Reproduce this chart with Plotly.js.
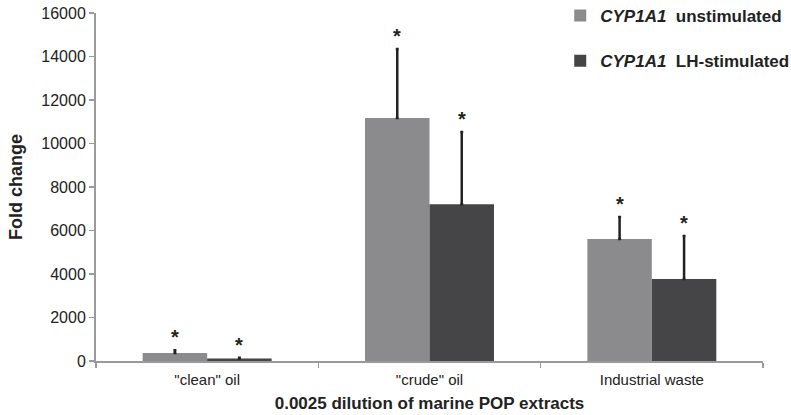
<!DOCTYPE html>
<html>
<head>
<meta charset="utf-8">
<script src="https://cdn.plot.ly/plotly-3.0.1.min.js"></script>
<style>html,body{margin:0;padding:0;background:#fff;}#chart{width:791px;height:415px;}</style>
</head>
<body>
<div id="chart"></div>
<script>
const categories = ['"clean" oil', '"crude" oil', 'Industrial waste'];
const catPos = [0, 1, 2];
const unstimulated = [370, 11170, 5610];
const unstimulatedErr = [120, 3180, 1010];
const lhStimulated = [110, 7210, 3770];
const lhStimulatedErr = [40, 3320, 1980];
const seriesNames = ['<i>CYP1A1</i>  unstimulated', '<i>CYP1A1</i>  LH-stimulated'];
const yTicks = [0, 2000, 4000, 6000, 8000, 10000, 12000, 14000, 16000];
const yTickText = ['0', '2000', '4000', '6000', '8000', '10000', '12000', '14000', '16000'];

const barW = 0.29;
const font = 'Liberation Sans, Arial, sans-serif';

const traces = [
  {
    type: 'bar', name: seriesNames[0], x: catPos, y: unstimulated,
    width: barW, offset: -barW, legendgroup: 'a',
    marker: {color: '#8b8b8d', line: {width: 0}},
    error_y: {type: 'data', array: unstimulatedErr, symmetric: false, arrayminus: [0,0,0], color: '#222', thickness: 2.5, width: 1.5}
  },
  {
    type: 'bar', name: seriesNames[1], x: catPos, y: lhStimulated,
    width: barW, offset: 0, legendgroup: 'b',
    marker: {color: '#454547', line: {width: 0}},
    error_y: {type: 'data', array: lhStimulatedErr, symmetric: false, arrayminus: [0,0,0], color: '#222', thickness: 2.5, width: 1.5}
  }
];

const annotations = [];
catPos.forEach((c, i) => {
  annotations.push({x: c - barW/2, y: unstimulated[i] + unstimulatedErr[i], text: '<b>*</b>', showarrow: false, yanchor: 'bottom', yshift: 0, font: {family: font, size: 20, color: '#222'}});
  annotations.push({x: c + barW/2, y: lhStimulated[i] + lhStimulatedErr[i], text: '<b>*</b>', showarrow: false, yanchor: 'bottom', yshift: 0, font: {family: font, size: 20, color: '#222'}});
});

const layout = {
  width: 791, height: 415,
  margin: {l: 96, r: 28, t: 13, b: 54, autoexpand: false},
  paper_bgcolor: '#fff', plot_bgcolor: '#fff',
  font: {family: font, size: 15, color: '#222'},
  showlegend: true,
  legend: {x: 0.696, xanchor: 'left', y: 1.043, yanchor: 'top', traceorder: 'grouped', tracegroupgap: 20,
           font: {family: font, size: 17, color: '#222', weight: 'bold'}, bgcolor: 'rgba(0,0,0,0)'},
  xaxis: {
    range: [-0.5, 2.5], tickvals: catPos, ticktext: categories, ticks: '', showgrid: false, zeroline: false,
    showline: true, linecolor: '#9a9a9c', linewidth: 2, ticklabelstandoff: 4,
    minor: {tickmode: 'array', tickvals: [-0.5, 0.5, 1.5, 2.5], ticks: 'outside', ticklen: 5, tickcolor: '#9a9a9c', tickwidth: 1.5, showgrid: false},
    tickfont: {family: font, size: 15, color: '#222'},
    title: {text: '0.0025 dilution of marine POP extracts', font: {family: font, size: 17, color: '#222', weight: 'bold'}, standoff: 10}
  },
  yaxis: {
    range: [0, 16000], tickvals: yTicks, ticktext: yTickText, ticks: 'outside', ticklen: 5, tickcolor: '#9a9a9c', tickwidth: 1.5,
    showgrid: false, zeroline: false, showline: true, linecolor: '#9a9a9c', linewidth: 2,
    tickfont: {family: font, size: 16, color: '#222'},
    title: {text: 'Fold change', font: {family: font, size: 18, color: '#222', weight: 'bold'}, standoff: 14}
  },
  annotations: annotations
};

Plotly.newPlot('chart', traces, layout, {displayModeBar: false, staticPlot: true});
</script>
</body>
</html>
